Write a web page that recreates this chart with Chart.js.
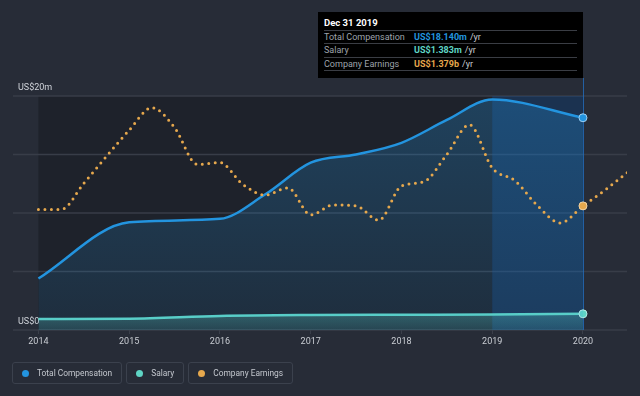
<!DOCTYPE html>
<html>
<head>
<meta charset="utf-8">
<script src="https://cdn.jsdelivr.net/npm/chart.js@4"></script>
<style>
  html, body { margin: 0; padding: 0; background: #272c37; }
  #wrap { position: relative; width: 640px; height: 396px; font-family: Roboto, "Noto Sans", sans-serif; }
  #tip {
    position: absolute; left: 318px; top: 12px; width: 265px; height: 66px;
    background: #000; box-sizing: border-box; padding: 4px 6px 0 6px; color: #fff;
  }
  #tip .title { font-size: 9.5px; font-weight: bold; height: 14px; line-height: 14px; border-bottom: 1px solid #3a3d44; }
  #tip .row { font-size: 9px; height: 12.3px; line-height: 12.3px; border-bottom: 1px solid #3a3d44; color: #9ea3ab; display: flex; white-space: nowrap; }
  #tip .row .lab { width: 90px; }
  #tip .row .val { font-weight: bold; }
  #tip .row .unit { color: #c9cdd3; margin-left: 3px; }
  #legend { position: absolute; left: 12px; top: 362px; display: flex; gap: 4px; }
  .item {
    height: 22px; box-sizing: border-box; border: 1px solid #3b414d; border-radius: 3px;
    display: flex; align-items: center; padding: 0 9px 0 9px; color: #c3c7ce; font-size: 8.4px; white-space: nowrap;
  }
  .dot { width: 7px; height: 7px; border-radius: 50%; margin-right: 8px; }
</style>
</head>
<body>
<div id="wrap">
  <canvas id="myChart" width="640" height="396"></canvas>
  <div id="tip">
    <div class="title">Dec 31 2019</div>
    <div class="row"><span class="lab">Total Compensation</span><span class="val" style="color:#2394df">US$18.140m</span><span class="unit">/yr</span></div>
    <div class="row"><span class="lab">Salary</span><span class="val" style="color:#5fd5c5">US$1.383m</span><span class="unit">/yr</span></div>
    <div class="row"><span class="lab">Company Earnings</span><span class="val" style="color:#e6a84d">US$1.379b</span><span class="unit">/yr</span></div>
  </div>
  <div id="legend">
    <div class="item"><span class="dot" style="background:#2394df"></span>Total Compensation</div>
    <div class="item"><span class="dot" style="background:#5fd5c5"></span>Salary</div>
    <div class="item"><span class="dot" style="background:#e6a84d"></span>Company Earnings</div>
  </div>
</div>
<script>
// years shown on the x axis
const tickYears = [2014, 2015, 2016, 2017, 2018, 2019, 2020];

// total compensation, US$m
const compYears = [2014, 2015, 2016, 2016.5, 2017, 2017.5, 2018, 2018.5, 2019, 2020];
const compValues = [4.4, 9.2, 9.5, 11.6, 14.3, 15.0, 16.0, 17.95, 19.7, 18.14];

// salary, US$m
const salaryYears = [2014, 2015, 2016, 2017, 2018, 2019, 2020];
const salaryValues = [0.94, 0.97, 1.2, 1.28, 1.3, 1.32, 1.383];

// company earnings, US$b (quarterly)
const earnYears = [2014, 2014.25, 2014.5, 2014.75, 2015, 2015.25, 2015.5, 2015.75,
  2016, 2016.25, 2016.5, 2016.75, 2017, 2017.25, 2017.5, 2017.75,
  2018, 2018.25, 2018.5, 2018.75, 2019, 2019.25, 2019.5, 2019.75,
  2020, 2020.25, 2020.5];
const earnValues = [1.34, 1.34, 1.63, 1.93, 2.22, 2.47, 2.25, 1.84,
  1.86, 1.62, 1.50, 1.58, 1.28, 1.39, 1.38, 1.22,
  1.60, 1.65, 1.95, 2.28, 1.80, 1.66, 1.38, 1.19,
  1.379, 1.56, 1.76];

const toPoints = (xs, ys) => xs.map((x, i) => ({ x: x, y: ys[i] }));

let ctx = document.getElementById("myChart").getContext("2d");

//gradients for the filled areas
const compGradient = ctx.createLinearGradient(0, 96, 0, 330);
compGradient.addColorStop(0, 'rgba(35,148,223,0.28)');
compGradient.addColorStop(1, 'rgba(35,148,223,0.10)');
const salaryGradient = ctx.createLinearGradient(0, 310, 0, 330);
salaryGradient.addColorStop(0, 'rgba(95,213,197,0.35)');
salaryGradient.addColorStop(1, 'rgba(95,213,197,0.15)');

const lastDot = c => (c.raw && c.raw.x === 2020 ? 4 : 0);

// dark past region, grid lines, highlighted last year and hover line
const regions = {
  id: 'regions',
  beforeDraw(chart) {
    const { ctx, chartArea: a, scales: { x, y } } = chart;
    const left = x.getPixelForValue(x.min), right = x.getPixelForValue(x.max);
    ctx.save();
    ctx.fillStyle = '#1e222b';
    ctx.fillRect(x.getPixelForValue(2014), a.top, x.getPixelForValue(2020) - x.getPixelForValue(2014), a.bottom - a.top);
    ctx.strokeStyle = '#383d48';
    ctx.lineWidth = 1.5;
    y.ticks.forEach(t => {
      const py = y.getPixelForValue(t.value);
      ctx.beginPath();
      ctx.moveTo(left, py);
      ctx.lineTo(right, py);
      ctx.stroke();
    });
    ctx.restore();
  },
  beforeDatasetsDraw(chart) {
    const { ctx, chartArea: a, scales: { x } } = chart;
    const x19 = x.getPixelForValue(2019), x20 = x.getPixelForValue(2020);
    ctx.save();
    ctx.fillStyle = 'rgba(22,80,150,0.35)';
    ctx.fillRect(x19, a.top, x20 - x19, a.bottom - a.top);
    ctx.strokeStyle = 'rgba(35,110,190,0.8)';
    ctx.lineWidth = 1;
    ctx.beginPath();
    ctx.moveTo(Math.round(x20) + 0.5, 78);
    ctx.lineTo(Math.round(x20) + 0.5, a.bottom);
    ctx.stroke();
    ctx.restore();
  }
};

let compChart = new Chart(ctx, {
  type: 'line',
  data: {
    datasets: [{//earnings dataset
      label: 'Company Earnings',
      data: toPoints(earnYears, earnValues),
      yAxisID: 'y2',
      borderColor: '#e6a84d',
      borderWidth: 3,
      borderDash: [0, 6.5],
      borderCapStyle: 'round',
      fill: false,
      cubicInterpolationMode: 'monotone',
      pointRadius: lastDot,
      pointBackgroundColor: '#e6a84d',
      pointBorderColor: '#f3d3a4',
      pointBorderWidth: 1,
      order: 1
    }, {//total compensation dataset
      label: 'Total Compensation',
      data: toPoints(compYears, compValues),
      borderColor: '#2394df',
      borderWidth: 2.5,
      backgroundColor: compGradient,
      fill: 'origin',
      cubicInterpolationMode: 'monotone',
      pointRadius: lastDot,
      pointBackgroundColor: '#2394df',
      pointBorderColor: '#9fd0f3',
      pointBorderWidth: 1,
      order: 2
    }, {//salary dataset
      label: 'Salary',
      data: toPoints(salaryYears, salaryValues),
      borderColor: '#5fd5c5',
      borderWidth: 2.5,
      backgroundColor: salaryGradient,
      fill: 'origin',
      cubicInterpolationMode: 'monotone',
      pointRadius: lastDot,
      pointBackgroundColor: '#5fd5c5',
      pointBorderColor: '#b9efe7',
      pointBorderWidth: 1,
      order: 3
    }]
  },
  options: {
    responsive: false,
    animation: false,
    events: [],
    layout: { padding: { left: 13, right: 13, top: 96, bottom: 46 } },
    plugins: { legend: { display: false }, tooltip: { enabled: false } },
    scales: {
      x: {
        type: 'linear',
        min: 2013.72,
        max: 2020.485,
        afterBuildTicks: s => { s.ticks = tickYears.map(v => ({ value: v })); },
        afterFit: s => { s.height = 20; },
        border: { display: false },
        grid: { drawOnChartArea: false, drawTicks: true, tickLength: 4, color: '#3a3f4a' },
        ticks: {
          padding: 2,
          color: '#c9cdd3',
          font: { family: 'Roboto', size: 9 },
          callback: v => String(v)
        }
      },
      y: {
        min: 0,
        max: 20,
        afterFit: s => { s.width = 0; },
        border: { display: false },
        grid: { display: false },
        ticks: {
          stepSize: 5,
          mirror: true,
          padding: 5,
          labelOffset: -8,
          color: '#d0d4da',
          font: { family: 'Roboto', size: 9 },
          callback: v => (v === 20 ? 'US$20m' : v === 0 ? 'US$0' : '')
        }
      },
      y2: {
        display: false,
        min: 0,
        max: 2.6
      }
    }
  },
  plugins: [regions]
});
</script>
</body>
</html>
